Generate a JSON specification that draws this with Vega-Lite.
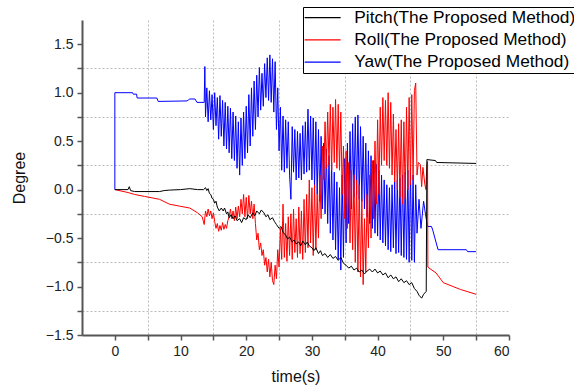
{
  "$schema": "https://vega.github.io/schema/vega-lite/v6.json",
  "width": 427,
  "height": 315,
  "autosize": {"type": "none"},
  "padding": {"left": 82, "top": 20, "right": 65, "bottom": 57},
  "background": "white",
  "config": {
    "view": {"stroke": null},
    "font": "Liberation Sans",
    "axis": {
      "domainColor": "#555555", "domainWidth": 2,
      "tickColor": "#555555", "tickWidth": 1.5, "tickSize": 5,
      "labelFont": "Liberation Sans", "labelFontSize": 14, "labelColor": "#222222",
      "titleFont": "Liberation Sans", "titleFontSize": 16, "titleFontWeight": "normal", "titleColor": "#111111",
      "gridColor": "#bbbbbb", "gridDash": [2, 2], "gridWidth": 1
    }
  },
  "data": {"values": [
    {"s":"Yaw","t":0,"v":0},{"s":"Yaw","t":0,"v":1.0},{"s":"Yaw","t":2.7,"v":1.0},{"s":"Yaw","t":2.8,"v":0.985},{"s":"Yaw","t":3.3,"v":0.985},{"s":"Yaw","t":3.4,"v":0.945},{"s":"Yaw","t":6.4,"v":0.945},{"s":"Yaw","t":6.6,"v":0.91},{"s":"Yaw","t":11.0,"v":0.915},{"s":"Yaw","t":11.4,"v":0.935},{"s":"Yaw","t":12.2,"v":0.935},{"s":"Yaw","t":12.5,"v":0.9},
    {"s":"Yaw","t":13.6,"v":0.9},{"s":"Yaw","t":13.7,"v":1.27},{"s":"Yaw","t":13.8,"v":0.75},{"s":"Yaw","t":14.0,"v":1.05},{"s":"Yaw","t":14.2,"v":0.7},{"s":"Yaw","t":14.4,"v":1.02},{"s":"Yaw","t":14.6,"v":0.72},{"s":"Yaw","t":14.8,"v":0.98},{"s":"Yaw","t":15.0,"v":0.62},{"s":"Yaw","t":15.2,"v":1.0},{"s":"Yaw","t":15.4,"v":0.66},{"s":"Yaw","t":15.6,"v":0.95},{"s":"Yaw","t":15.8,"v":0.52},{"s":"Yaw","t":16.0,"v":0.97},{"s":"Yaw","t":16.2,"v":0.55},{"s":"Yaw","t":16.4,"v":0.92},{"s":"Yaw","t":16.6,"v":0.45},{"s":"Yaw","t":16.8,"v":0.9},{"s":"Yaw","t":17.0,"v":0.42},{"s":"Yaw","t":17.2,"v":0.86},{"s":"Yaw","t":17.4,"v":0.38},{"s":"Yaw","t":17.6,"v":0.84},{"s":"Yaw","t":17.8,"v":0.32},{"s":"Yaw","t":18.0,"v":0.8},{"s":"Yaw","t":18.2,"v":0.3},{"s":"Yaw","t":18.4,"v":0.76},{"s":"Yaw","t":18.6,"v":0.22},{"s":"Yaw","t":18.8,"v":0.7},{"s":"Yaw","t":19.0,"v":0.15},{"s":"Yaw","t":19.2,"v":0.74},{"s":"Yaw","t":19.4,"v":0.25},{"s":"Yaw","t":19.6,"v":0.8},{"s":"Yaw","t":19.8,"v":0.32},{"s":"Yaw","t":20.0,"v":0.86},{"s":"Yaw","t":20.2,"v":0.38},{"s":"Yaw","t":20.4,"v":0.98},{"s":"Yaw","t":20.6,"v":0.45},{"s":"Yaw","t":20.8,"v":1.05},{"s":"Yaw","t":21.0,"v":0.55},{"s":"Yaw","t":21.2,"v":1.12},{"s":"Yaw","t":21.4,"v":0.62},{"s":"Yaw","t":21.6,"v":1.18},{"s":"Yaw","t":21.8,"v":0.75},{"s":"Yaw","t":22.0,"v":1.26},{"s":"Yaw","t":22.2,"v":0.82},{"s":"Yaw","t":22.4,"v":1.2},{"s":"Yaw","t":22.6,"v":0.86},{"s":"Yaw","t":22.8,"v":1.3},{"s":"Yaw","t":23.0,"v":0.95},{"s":"Yaw","t":23.2,"v":1.36},{"s":"Yaw","t":23.4,"v":0.92},{"s":"Yaw","t":23.6,"v":1.39},{"s":"Yaw","t":23.8,"v":0.9},{"s":"Yaw","t":24.0,"v":1.35},{"s":"Yaw","t":24.2,"v":0.8},{"s":"Yaw","t":24.4,"v":1.32},{"s":"Yaw","t":24.6,"v":0.62},{"s":"Yaw","t":24.8,"v":1.05},{"s":"Yaw","t":25.0,"v":0.4},{"s":"Yaw","t":25.2,"v":0.85},{"s":"Yaw","t":25.4,"v":0.2},{"s":"Yaw","t":25.6,"v":0.76},{"s":"Yaw","t":25.8,"v":0.18},{"s":"Yaw","t":26.0,"v":0.72},{"s":"Yaw","t":26.2,"v":0.22},{"s":"Yaw","t":26.4,"v":0.7},{"s":"Yaw","t":26.6,"v":0.15},{"s":"Yaw","t":26.8,"v":-0.1},{"s":"Yaw","t":27.0,"v":0.65},{"s":"Yaw","t":27.2,"v":0.18},{"s":"Yaw","t":27.4,"v":0.62},{"s":"Yaw","t":27.6,"v":0.1},{"s":"Yaw","t":27.8,"v":0.6},{"s":"Yaw","t":28.0,"v":0.12},{"s":"Yaw","t":28.2,"v":0.58},{"s":"Yaw","t":28.4,"v":0.1},{"s":"Yaw","t":28.6,"v":0.66},{"s":"Yaw","t":28.8,"v":0.16},{"s":"Yaw","t":29.0,"v":0.7},{"s":"Yaw","t":29.2,"v":0.18},{"s":"Yaw","t":29.4,"v":0.83},{"s":"Yaw","t":29.6,"v":0.2},{"s":"Yaw","t":29.8,"v":0.76},{"s":"Yaw","t":30.0,"v":0.1},{"s":"Yaw","t":30.2,"v":0.74},{"s":"Yaw","t":30.4,"v":0.02},{"s":"Yaw","t":30.6,"v":0.7},{"s":"Yaw","t":30.8,"v":-0.05},{"s":"Yaw","t":31.0,"v":0.62},{"s":"Yaw","t":31.2,"v":-0.12},{"s":"Yaw","t":31.4,"v":0.55},{"s":"Yaw","t":31.6,"v":-0.2},{"s":"Yaw","t":31.8,"v":0.48},{"s":"Yaw","t":32.0,"v":-0.25},{"s":"Yaw","t":32.2,"v":0.42},{"s":"Yaw","t":32.4,"v":-0.35},{"s":"Yaw","t":32.6,"v":0.35},{"s":"Yaw","t":32.8,"v":-0.45},{"s":"Yaw","t":33.0,"v":0.28},{"s":"Yaw","t":33.2,"v":-0.52},{"s":"Yaw","t":33.4,"v":0.18},{"s":"Yaw","t":33.6,"v":-0.62},{"s":"Yaw","t":33.8,"v":0.08},{"s":"Yaw","t":34.0,"v":-0.72},{"s":"Yaw","t":34.2,"v":0.02},{"s":"Yaw","t":34.4,"v":-0.83},{"s":"Yaw","t":34.6,"v":0.15},{"s":"Yaw","t":34.8,"v":-0.7},{"s":"Yaw","t":35.0,"v":0.32},{"s":"Yaw","t":35.2,"v":-0.55},{"s":"Yaw","t":35.4,"v":0.48},{"s":"Yaw","t":35.6,"v":-0.35},{"s":"Yaw","t":35.8,"v":0.6},{"s":"Yaw","t":36.0,"v":-0.2},{"s":"Yaw","t":36.2,"v":0.68},{"s":"Yaw","t":36.4,"v":-0.08},{"s":"Yaw","t":36.6,"v":0.75},{"s":"Yaw","t":36.8,"v":-0.05},{"s":"Yaw","t":37.0,"v":0.77},{"s":"Yaw","t":37.2,"v":-0.1},{"s":"Yaw","t":37.4,"v":0.65},{"s":"Yaw","t":37.6,"v":-0.12},{"s":"Yaw","t":37.8,"v":0.55},{"s":"Yaw","t":38.0,"v":-0.2},{"s":"Yaw","t":38.2,"v":0.48},{"s":"Yaw","t":38.4,"v":-0.28},{"s":"Yaw","t":38.6,"v":0.4},{"s":"Yaw","t":38.8,"v":-0.35},{"s":"Yaw","t":39.0,"v":0.35},{"s":"Yaw","t":39.2,"v":-0.4},{"s":"Yaw","t":39.4,"v":0.3},{"s":"Yaw","t":39.6,"v":-0.45},{"s":"Yaw","t":39.8,"v":0.26},{"s":"Yaw","t":40.0,"v":-0.48},{"s":"Yaw","t":40.2,"v":0.2},{"s":"Yaw","t":40.4,"v":-0.52},{"s":"Yaw","t":40.6,"v":0.15},{"s":"Yaw","t":40.8,"v":-0.55},{"s":"Yaw","t":41.0,"v":0.1},{"s":"Yaw","t":41.2,"v":-0.58},{"s":"Yaw","t":41.4,"v":0.05},{"s":"Yaw","t":41.6,"v":-0.62},{"s":"Yaw","t":41.8,"v":0.02},{"s":"Yaw","t":42.0,"v":-0.64},{"s":"Yaw","t":42.2,"v":0.05},{"s":"Yaw","t":42.4,"v":-0.6},{"s":"Yaw","t":42.6,"v":0.08},{"s":"Yaw","t":42.8,"v":-0.66},{"s":"Yaw","t":43.0,"v":0.1},{"s":"Yaw","t":43.2,"v":-0.65},{"s":"Yaw","t":43.4,"v":0.12},{"s":"Yaw","t":43.6,"v":-0.68},{"s":"Yaw","t":43.8,"v":0.15},{"s":"Yaw","t":44.0,"v":-0.7},{"s":"Yaw","t":44.2,"v":0.18},{"s":"Yaw","t":44.4,"v":-0.72},{"s":"Yaw","t":44.6,"v":0.2},{"s":"Yaw","t":44.8,"v":-0.75},{"s":"Yaw","t":45.0,"v":0.22},{"s":"Yaw","t":45.2,"v":-0.73},{"s":"Yaw","t":45.4,"v":0.15},{"s":"Yaw","t":45.6,"v":-0.75},{"s":"Yaw","t":45.8,"v":0.05},{"s":"Yaw","t":46.0,"v":-0.45},{"s":"Yaw","t":46.3,"v":-0.1},{"s":"Yaw","t":46.6,"v":-0.4},{"s":"Yaw","t":47.0,"v":-0.12},{"s":"Yaw","t":47.3,"v":-0.26},{"s":"Yaw","t":47.6,"v":-0.38},{"s":"Yaw","t":48.2,"v":-0.38},{"s":"Yaw","t":48.4,"v":-0.42},{"s":"Yaw","t":49.2,"v":-0.62},{"s":"Yaw","t":53.5,"v":-0.62},{"s":"Yaw","t":53.7,"v":-0.64},{"s":"Yaw","t":55.0,"v":-0.64},
    {"s":"Roll","t":0,"v":0},{"s":"Roll","t":2.0,"v":-0.03},{"s":"Roll","t":3.0,"v":-0.05},{"s":"Roll","t":4.5,"v":-0.07},{"s":"Roll","t":6.8,"v":-0.1},{"s":"Roll","t":8.3,"v":-0.15},{"s":"Roll","t":9.8,"v":-0.17},{"s":"Roll","t":11.4,"v":-0.19},{"s":"Roll","t":12.6,"v":-0.24},{"s":"Roll","t":13.3,"v":-0.28},
    {"s":"Roll","t":13.6,"v":-0.36},{"s":"Roll","t":13.8,"v":-0.22},{"s":"Roll","t":14.0,"v":-0.28},{"s":"Roll","t":14.2,"v":-0.2},{"s":"Roll","t":14.4,"v":-0.27},{"s":"Roll","t":14.6,"v":-0.22},{"s":"Roll","t":14.8,"v":-0.3},{"s":"Roll","t":15.0,"v":-0.24},{"s":"Roll","t":15.2,"v":-0.33},{"s":"Roll","t":15.4,"v":-0.4},{"s":"Roll","t":15.6,"v":-0.35},{"s":"Roll","t":15.8,"v":-0.43},{"s":"Roll","t":16.0,"v":-0.37},{"s":"Roll","t":16.2,"v":-0.42},{"s":"Roll","t":16.4,"v":-0.34},{"s":"Roll","t":16.6,"v":-0.41},{"s":"Roll","t":16.8,"v":-0.36},{"s":"Roll","t":17.0,"v":-0.4},{"s":"Roll","t":17.2,"v":-0.32},{"s":"Roll","t":17.4,"v":-0.28},{"s":"Roll","t":17.6,"v":-0.2},{"s":"Roll","t":17.8,"v":-0.3},{"s":"Roll","t":18.0,"v":-0.22},{"s":"Roll","t":18.2,"v":-0.32},{"s":"Roll","t":18.4,"v":-0.18},{"s":"Roll","t":18.6,"v":-0.3},{"s":"Roll","t":18.8,"v":-0.17},{"s":"Roll","t":19.0,"v":-0.28},{"s":"Roll","t":19.2,"v":-0.1},{"s":"Roll","t":19.4,"v":-0.25},{"s":"Roll","t":19.6,"v":-0.05},{"s":"Roll","t":19.8,"v":-0.28},{"s":"Roll","t":20.0,"v":-0.08},{"s":"Roll","t":20.2,"v":-0.3},{"s":"Roll","t":20.4,"v":-0.06},{"s":"Roll","t":20.6,"v":-0.25},{"s":"Roll","t":20.8,"v":-0.12},{"s":"Roll","t":21.0,"v":-0.3},{"s":"Roll","t":21.2,"v":-0.15},{"s":"Roll","t":21.4,"v":-0.35},{"s":"Roll","t":21.6,"v":-0.52},{"s":"Roll","t":21.8,"v":-0.45},{"s":"Roll","t":22.0,"v":-0.62},{"s":"Roll","t":22.2,"v":-0.55},{"s":"Roll","t":22.4,"v":-0.68},{"s":"Roll","t":22.6,"v":-0.62},{"s":"Roll","t":22.8,"v":-0.78},{"s":"Roll","t":23.0,"v":-0.7},{"s":"Roll","t":23.2,"v":-0.85},{"s":"Roll","t":23.4,"v":-0.72},{"s":"Roll","t":23.6,"v":-0.9},{"s":"Roll","t":23.8,"v":-0.75},{"s":"Roll","t":24.0,"v":-0.94},{"s":"Roll","t":24.2,"v":-0.98},{"s":"Roll","t":24.4,"v":-0.78},{"s":"Roll","t":24.6,"v":-0.92},{"s":"Roll","t":24.8,"v":-0.62},{"s":"Roll","t":25.0,"v":-0.8},{"s":"Roll","t":25.2,"v":-0.4},{"s":"Roll","t":25.4,"v":-0.72},{"s":"Roll","t":25.6,"v":-0.15},{"s":"Roll","t":25.8,"v":-0.7},{"s":"Roll","t":26.0,"v":-0.35},{"s":"Roll","t":26.2,"v":-0.74},{"s":"Roll","t":26.4,"v":-0.28},{"s":"Roll","t":26.6,"v":-0.68},{"s":"Roll","t":26.8,"v":-0.25},{"s":"Roll","t":27.0,"v":-0.72},{"s":"Roll","t":27.2,"v":-0.2},{"s":"Roll","t":27.4,"v":-0.65},{"s":"Roll","t":27.6,"v":-0.3},{"s":"Roll","t":27.8,"v":-0.7},{"s":"Roll","t":28.0,"v":-0.18},{"s":"Roll","t":28.2,"v":-0.66},{"s":"Roll","t":28.4,"v":-0.22},{"s":"Roll","t":28.6,"v":-0.72},{"s":"Roll","t":28.8,"v":-0.1},{"s":"Roll","t":29.0,"v":-0.65},{"s":"Roll","t":29.2,"v":-0.05},{"s":"Roll","t":29.4,"v":-0.6},{"s":"Roll","t":29.6,"v":0.1},{"s":"Roll","t":29.8,"v":-0.55},{"s":"Roll","t":30.0,"v":0.02},{"s":"Roll","t":30.2,"v":-0.68},{"s":"Roll","t":30.4,"v":0.05},{"s":"Roll","t":30.6,"v":-0.62},{"s":"Roll","t":30.8,"v":-0.05},{"s":"Roll","t":31.0,"v":-0.5},{"s":"Roll","t":31.2,"v":0.15},{"s":"Roll","t":31.4,"v":-0.3},{"s":"Roll","t":31.6,"v":0.45},{"s":"Roll","t":31.8,"v":0.1},{"s":"Roll","t":32.0,"v":0.7},{"s":"Roll","t":32.2,"v":0.22},{"s":"Roll","t":32.4,"v":0.8},{"s":"Roll","t":32.6,"v":0.25},{"s":"Roll","t":32.8,"v":0.88},{"s":"Roll","t":33.0,"v":0.2},{"s":"Roll","t":33.2,"v":0.85},{"s":"Roll","t":33.4,"v":0.28},{"s":"Roll","t":33.6,"v":0.93},{"s":"Roll","t":33.8,"v":0.22},{"s":"Roll","t":34.0,"v":0.88},{"s":"Roll","t":34.2,"v":0.2},{"s":"Roll","t":34.4,"v":0.8},{"s":"Roll","t":34.6,"v":-0.05},{"s":"Roll","t":34.8,"v":0.45},{"s":"Roll","t":35.0,"v":-0.3},{"s":"Roll","t":35.2,"v":0.4},{"s":"Roll","t":35.4,"v":-0.4},{"s":"Roll","t":35.6,"v":0.28},{"s":"Roll","t":35.8,"v":-0.55},{"s":"Roll","t":36.0,"v":0.2},{"s":"Roll","t":36.2,"v":-0.62},{"s":"Roll","t":36.4,"v":0.15},{"s":"Roll","t":36.6,"v":-0.75},{"s":"Roll","t":36.8,"v":0.1},{"s":"Roll","t":37.0,"v":-0.85},{"s":"Roll","t":37.2,"v":0.05},{"s":"Roll","t":37.4,"v":-0.9},{"s":"Roll","t":37.6,"v":-0.1},{"s":"Roll","t":37.8,"v":-0.98},{"s":"Roll","t":38.0,"v":-0.3},{"s":"Roll","t":38.2,"v":-0.85},{"s":"Roll","t":38.4,"v":-0.05},{"s":"Roll","t":38.6,"v":-0.6},{"s":"Roll","t":38.8,"v":0.15},{"s":"Roll","t":39.0,"v":-0.5},{"s":"Roll","t":39.2,"v":0.3},{"s":"Roll","t":39.4,"v":-0.3},{"s":"Roll","t":39.6,"v":0.5},{"s":"Roll","t":39.8,"v":-0.15},{"s":"Roll","t":40.0,"v":0.72},{"s":"Roll","t":40.2,"v":-0.05},{"s":"Roll","t":40.4,"v":0.85},{"s":"Roll","t":40.6,"v":0.25},{"s":"Roll","t":40.8,"v":0.95},{"s":"Roll","t":41.0,"v":0.3},{"s":"Roll","t":41.2,"v":0.92},{"s":"Roll","t":41.4,"v":0.25},{"s":"Roll","t":41.6,"v":1.0},{"s":"Roll","t":41.8,"v":0.22},{"s":"Roll","t":42.0,"v":0.9},{"s":"Roll","t":42.2,"v":0.15},{"s":"Roll","t":42.4,"v":0.78},{"s":"Roll","t":42.6,"v":0.08},{"s":"Roll","t":42.8,"v":0.62},{"s":"Roll","t":43.0,"v":0.0},{"s":"Roll","t":43.2,"v":0.68},{"s":"Roll","t":43.4,"v":-0.08},{"s":"Roll","t":43.6,"v":0.72},{"s":"Roll","t":43.8,"v":-0.15},{"s":"Roll","t":44.0,"v":0.7},{"s":"Roll","t":44.2,"v":-0.1},{"s":"Roll","t":44.4,"v":0.85},{"s":"Roll","t":44.6,"v":0.0},{"s":"Roll","t":44.8,"v":0.95},{"s":"Roll","t":45.0,"v":0.05},{"s":"Roll","t":45.2,"v":0.98},{"s":"Roll","t":45.4,"v":0.1},{"s":"Roll","t":45.6,"v":1.02},{"s":"Roll","t":45.8,"v":1.1},{"s":"Roll","t":46.0,"v":0.15},{"s":"Roll","t":46.2,"v":0.28},{"s":"Roll","t":46.5,"v":0.26},{"s":"Roll","t":46.7,"v":0.03},{"s":"Roll","t":46.9,"v":0.23},{"s":"Roll","t":47.2,"v":0.05},{"s":"Roll","t":47.35,"v":0.0},{"s":"Roll","t":47.5,"v":0.25},{"s":"Roll","t":47.6,"v":0.29},{"s":"Roll","t":47.65,"v":-0.8},{"s":"Roll","t":48.9,"v":-0.86},{"s":"Roll","t":50.0,"v":-0.96},{"s":"Roll","t":52.6,"v":-1.03},{"s":"Roll","t":55.0,"v":-1.08},
    {"s":"Pitch","t":0,"v":0},{"s":"Pitch","t":2.0,"v":0},{"s":"Pitch","t":2.2,"v":0.03},{"s":"Pitch","t":2.4,"v":-0.01},{"s":"Pitch","t":3.0,"v":-0.02},{"s":"Pitch","t":6.8,"v":-0.02},{"s":"Pitch","t":7.5,"v":-0.01},{"s":"Pitch","t":8.3,"v":-0.005},{"s":"Pitch","t":10.0,"v":0.0},{"s":"Pitch","t":11.4,"v":0.01},{"s":"Pitch","t":12.6,"v":0.0},
    {"s":"Pitch","t":13.5,"v":0.0},{"s":"Pitch","t":13.8,"v":0.02},{"s":"Pitch","t":14.0,"v":-0.01},{"s":"Pitch","t":14.2,"v":0.01},{"s":"Pitch","t":14.4,"v":-0.04},{"s":"Pitch","t":14.6,"v":-0.05},{"s":"Pitch","t":14.8,"v":-0.09},{"s":"Pitch","t":15.0,"v":-0.1},{"s":"Pitch","t":15.2,"v":-0.14},{"s":"Pitch","t":15.4,"v":-0.12},{"s":"Pitch","t":15.6,"v":-0.18},{"s":"Pitch","t":15.9,"v":-0.22},{"s":"Pitch","t":16.2,"v":-0.19},{"s":"Pitch","t":16.5,"v":-0.22},{"s":"Pitch","t":16.7,"v":-0.19},{"s":"Pitch","t":17.0,"v":-0.25},{"s":"Pitch","t":17.2,"v":-0.23},{"s":"Pitch","t":17.4,"v":-0.29},{"s":"Pitch","t":17.7,"v":-0.26},{"s":"Pitch","t":18.0,"v":-0.3},{"s":"Pitch","t":18.3,"v":-0.27},{"s":"Pitch","t":18.6,"v":-0.32},{"s":"Pitch","t":19.0,"v":-0.3},{"s":"Pitch","t":19.3,"v":-0.34},{"s":"Pitch","t":19.6,"v":-0.29},{"s":"Pitch","t":20.0,"v":-0.31},{"s":"Pitch","t":20.3,"v":-0.26},{"s":"Pitch","t":20.6,"v":-0.29},{"s":"Pitch","t":21.0,"v":-0.24},{"s":"Pitch","t":21.3,"v":-0.27},{"s":"Pitch","t":21.6,"v":-0.22},{"s":"Pitch","t":22.0,"v":-0.25},{"s":"Pitch","t":22.3,"v":-0.21},{"s":"Pitch","t":22.7,"v":-0.24},{"s":"Pitch","t":23.0,"v":-0.28},{"s":"Pitch","t":23.3,"v":-0.26},{"s":"Pitch","t":23.6,"v":-0.31},{"s":"Pitch","t":24.0,"v":-0.29},{"s":"Pitch","t":24.3,"v":-0.33},{"s":"Pitch","t":24.6,"v":-0.36},{"s":"Pitch","t":25.0,"v":-0.4},{"s":"Pitch","t":25.3,"v":-0.38},{"s":"Pitch","t":25.6,"v":-0.44},{"s":"Pitch","t":26.0,"v":-0.47},{"s":"Pitch","t":26.3,"v":-0.51},{"s":"Pitch","t":26.6,"v":-0.49},{"s":"Pitch","t":27.0,"v":-0.54},{"s":"Pitch","t":27.3,"v":-0.52},{"s":"Pitch","t":27.6,"v":-0.56},{"s":"Pitch","t":28.0,"v":-0.54},{"s":"Pitch","t":28.3,"v":-0.58},{"s":"Pitch","t":28.6,"v":-0.53},{"s":"Pitch","t":29.0,"v":-0.57},{"s":"Pitch","t":29.3,"v":-0.54},{"s":"Pitch","t":29.6,"v":-0.58},{"s":"Pitch","t":30.0,"v":-0.6},{"s":"Pitch","t":30.3,"v":-0.63},{"s":"Pitch","t":30.6,"v":-0.6},{"s":"Pitch","t":31.0,"v":-0.66},{"s":"Pitch","t":31.3,"v":-0.63},{"s":"Pitch","t":31.6,"v":-0.68},{"s":"Pitch","t":32.0,"v":-0.66},{"s":"Pitch","t":32.4,"v":-0.7},{"s":"Pitch","t":32.8,"v":-0.67},{"s":"Pitch","t":33.2,"v":-0.71},{"s":"Pitch","t":33.6,"v":-0.69},{"s":"Pitch","t":34.0,"v":-0.73},{"s":"Pitch","t":34.4,"v":-0.7},{"s":"Pitch","t":34.8,"v":-0.76},{"s":"Pitch","t":35.2,"v":-0.78},{"s":"Pitch","t":35.6,"v":-0.81},{"s":"Pitch","t":36.0,"v":-0.79},{"s":"Pitch","t":36.4,"v":-0.83},{"s":"Pitch","t":36.8,"v":-0.81},{"s":"Pitch","t":37.2,"v":-0.85},{"s":"Pitch","t":37.6,"v":-0.83},{"s":"Pitch","t":38.0,"v":-0.87},{"s":"Pitch","t":38.4,"v":-0.84},{"s":"Pitch","t":38.8,"v":-0.82},{"s":"Pitch","t":39.2,"v":-0.85},{"s":"Pitch","t":39.6,"v":-0.82},{"s":"Pitch","t":40.0,"v":-0.86},{"s":"Pitch","t":40.4,"v":-0.84},{"s":"Pitch","t":40.8,"v":-0.88},{"s":"Pitch","t":41.2,"v":-0.86},{"s":"Pitch","t":41.6,"v":-0.91},{"s":"Pitch","t":42.0,"v":-0.88},{"s":"Pitch","t":42.4,"v":-0.92},{"s":"Pitch","t":42.8,"v":-0.9},{"s":"Pitch","t":43.2,"v":-0.95},{"s":"Pitch","t":43.6,"v":-0.92},{"s":"Pitch","t":44.0,"v":-0.96},{"s":"Pitch","t":44.4,"v":-0.94},{"s":"Pitch","t":44.8,"v":-0.98},{"s":"Pitch","t":45.2,"v":-0.96},{"s":"Pitch","t":45.6,"v":-1.02},{"s":"Pitch","t":46.0,"v":-1.05},{"s":"Pitch","t":46.3,"v":-1.09},{"s":"Pitch","t":46.7,"v":-1.12},{"s":"Pitch","t":47.0,"v":-1.08},{"s":"Pitch","t":47.4,"v":-1.05},{"s":"Pitch","t":47.5,"v":0.31},{"s":"Pitch","t":48.8,"v":0.3},{"s":"Pitch","t":49.0,"v":0.28},{"s":"Pitch","t":55.0,"v":0.27}
  ]},
  "encoding": {
    "color": {
      "field": "s", "type": "nominal",
      "scale": {"domain": ["Pitch", "Roll", "Yaw"], "range": ["#000000", "#ff0000", "#0000ff"]},
      "legend": {
        "title": null,
        "orient": "none", "legendX": 221, "legendY": -13,
        "direction": "vertical",
        "labelExpr": "datum.label + '(The Proposed Method)'",
        "labelFont": "Liberation Sans", "labelFontSize": 17.3, "labelColor": "#000000", "labelLimit": 400,
        "symbolType": "M-3,0H3", "symbolSize": 144, "symbolStrokeWidth": 1.2,
        "symbolOffset": 9,
        "labelOffset": 23, "rowPadding": 4.2,
        "strokeColor": "#000000", "fillColor": "white",
        "padding": 2
      }
    }
  },
  "resolve": {"axis": {"x": "independent", "y": "independent"}},
  "layer": [
    {
      "transform": [{"filter": "datum.s == 'Yaw'"}],
      "mark": {"type": "line", "strokeWidth": 1},
      "encoding": {
        "x": {"field": "t", "type": "quantitative", "scale": {"domain": [-5, 60], "nice": false, "zero": false},
          "axis": {"orient": "bottom", "values": [5, 15, 25, 35, 45, 55], "grid": true, "ticks": false, "labels": false, "domain": false, "title": null}},
        "y": {"field": "v", "type": "quantitative", "scale": {"domain": [-1.5, 1.75], "nice": false, "zero": false},
          "axis": {"orient": "left", "values": [-1.25, -0.75, -0.25, 0.25, 0.75, 1.25], "grid": true, "ticks": false, "labels": false, "domain": false, "title": null}}
      }
    },
    {
      "transform": [{"filter": "datum.s == 'Roll'"}],
      "mark": {"type": "line", "strokeWidth": 1},
      "encoding": {
        "x": {"field": "t", "type": "quantitative", "axis": null},
        "y": {"field": "v", "type": "quantitative", "axis": null}
      }
    },
    {
      "transform": [{"filter": "datum.s == 'Pitch'"}],
      "mark": {"type": "line", "strokeWidth": 1},
      "encoding": {
        "x": {"field": "t", "type": "quantitative",
          "axis": {"orient": "bottom", "title": "time(s)", "grid": false,
            "values": [0, 5, 10, 15, 20, 25, 30, 35, 40, 45, 50, 55, 60],
            "labelExpr": "datum.value % 10 == 0 ? datum.label : ''",
            "labelPadding": 4, "titlePadding": 10}},
        "y": {"field": "v", "type": "quantitative",
          "axis": {"orient": "left", "title": "Degree", "grid": false,
            "values": [-1.5, -1.25, -1, -0.75, -0.5, -0.25, 0, 0.25, 0.5, 0.75, 1, 1.25, 1.5],
            "labelExpr": "datum.value % 0.5 == 0 ? format(datum.value, '.1f') : ''",
            "labelPadding": 4, "titlePadding": 18}}
      }
    }
  ]
}
